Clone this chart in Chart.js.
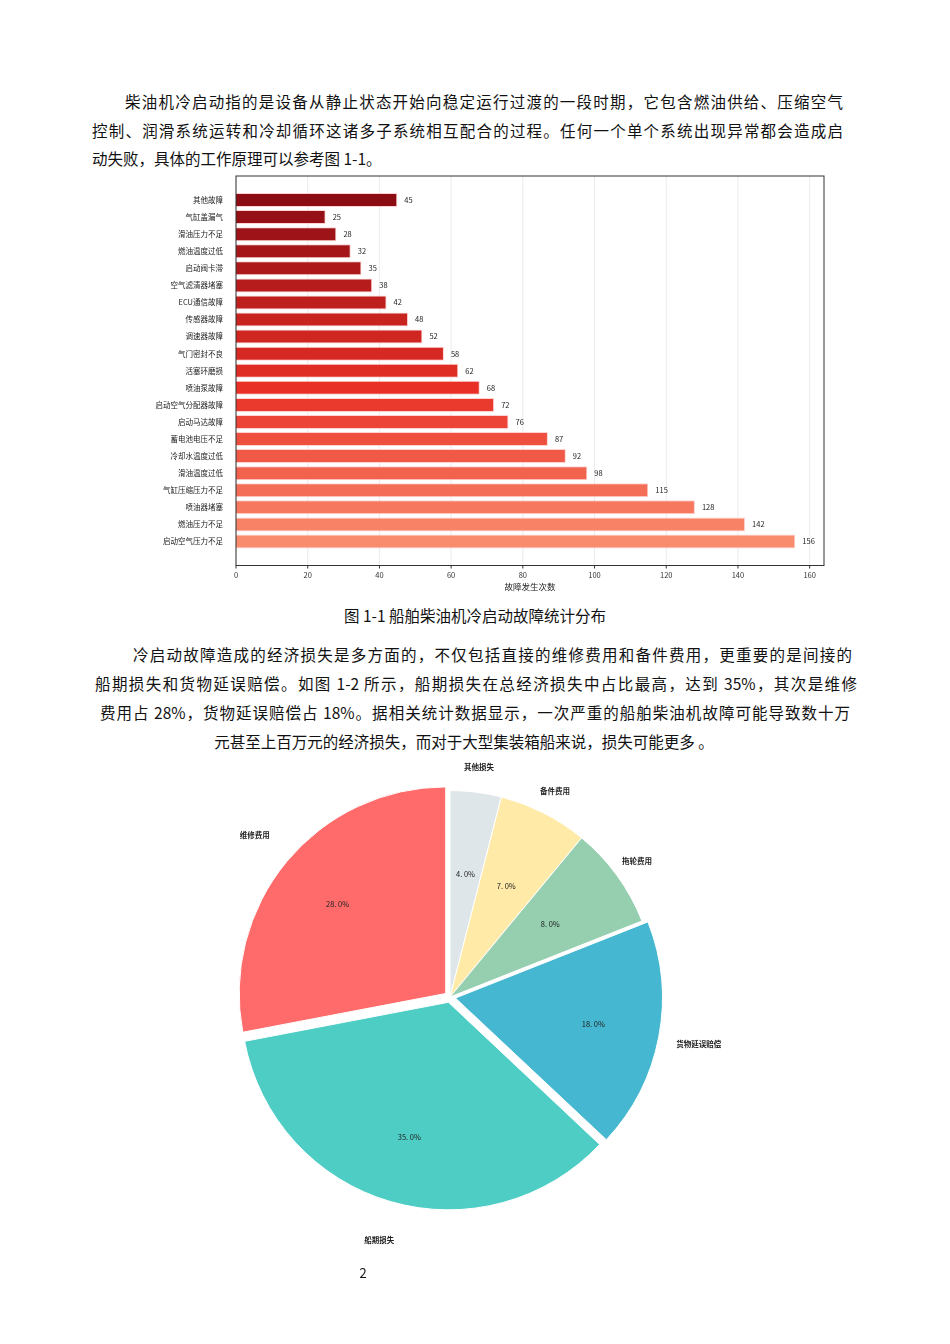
<!DOCTYPE html>
<html>
<head>
<meta charset="utf-8">
<title>船舶柴油机冷启动故障</title>
<script src="https://cdn.jsdelivr.net/npm/chart.js"></script>
<style>
  body { margin:0; background:#fff; width:950px; height:1344px; position:relative; font-family:"Noto Sans CJK SC", serif; color:#111; }
  .l { position:absolute; font-size:15.5px; line-height:20px; text-align:justify; text-align-last:justify; white-space:nowrap; }
  .c { position:absolute; left:0; width:950px; text-align:center; font-size:15.5px; line-height:20px; }
  #bar { position:absolute; left:150px; top:170px; }
  #pie { position:absolute; left:100px; top:727px; }
  .pg { position:absolute; top:1263px; left:0; width:726px; text-align:center; font-size:13px; }
</style>
</head>
<body>
<div class="l" style="top:91px;left:125px;width:718px">柴油机冷启动指的是设备从静止状态开始向稳定运行过渡的一段时期，它包含燃油供给、压缩空气</div>
<div class="l" style="top:120px;left:92px;width:751px">控制、润滑系统运转和冷却循环这诸多子系统相互配合的过程。任何一个单个系统出现异常都会造成启</div>
<div class="l" style="top:148px;left:92px;text-align-last:left">动失败，具体的工作原理可以参考图 1-1。</div>
<canvas id="bar" width="680" height="430"></canvas>
<div class="c" style="top:605px">图 1-1 船舶柴油机冷启动故障统计分布</div>
<div class="l" style="top:644px;left:133px;width:719px">冷启动故障造成的经济损失是多方面的，不仅包括直接的维修费用和备件费用，更重要的是间接的</div>
<div class="l" style="top:673px;left:95px;width:762px">船期损失和货物延误赔偿。如图 1-2 所示，船期损失在总经济损失中占比最高，达到 35%，其次是维修</div>
<div class="l" style="top:702px;left:100px;width:750px">费用占 28%，货物延误赔偿占 18%。据相关统计数据显示，一次严重的船舶柴油机故障可能导致数十万</div>
<div class="c" style="top:731px;width:928px">元甚至上百万元的经济损失，而对于大型集装箱船来说，损失可能更多 。</div>
<canvas id="pie" width="700" height="540"></canvas>
<div class="pg">2</div>
<script>
var faultNames = ['其他故障','气缸盖漏气','滑油压力不足','燃油温度过低','启动阀卡滞','空气滤清器堵塞','ECU通信故障','传感器故障','调速器故障','气门密封不良','活塞环磨损','喷油泵故障','启动空气分配器故障','启动马达故障','蓄电池电压不足','冷却水温度过低','滑油温度过低','气缸压缩压力不足','喷油器堵塞','燃油压力不足','启动空气压力不足'];
var faultCounts = [45,25,28,32,35,38,42,48,52,58,62,68,72,76,87,92,98,115,128,142,156];
var xTicks = [0,20,40,60,80,100,120,140,160];

var lossNames = ['其他损失','备件费用','拖轮费用','货物延误赔偿','船期损失','维修费用'];
var lossShares = [4,7,8,18,35,28];
var lossColors = ['#dfe6e9','#ffeaa7','#96cfb0','#45b7d1','#4ecdc4','#ff6b6b'];
var lossOffsets = [0,0,0,22,22,22];

var FONT = '"Noto Sans CJK SC", sans-serif';

// dark red at top to salmon at bottom
function mix(a, b, t) {
  return 'rgb(' + a.map(function(v, i){ return Math.round(v + (b[i]-v)*t); }).join(',') + ')';
}
var barColors = faultCounts.map(function(v, i){
  var t = i / (faultCounts.length - 1);
  return t < 0.55 ? mix([140,12,20],[232,48,38],t/0.55) : mix([232,48,38],[250,140,110],(t-0.55)/0.45);
});

var frameGap = 15.5;
var barDeco = {
  id: 'barDeco',
  beforeDatasetsDraw: function(chart) {
    var c = chart.ctx, a = chart.chartArea, x = chart.scales.x;
    c.save();
    c.strokeStyle = '#e6e6e6'; c.lineWidth = 0.8;
    xTicks.forEach(function(t){
      var px = x.getPixelForValue(t);
      c.beginPath(); c.moveTo(px, a.top - frameGap); c.lineTo(px, a.bottom + frameGap); c.stroke();
    });
    c.restore();
  },
  afterDatasetsDraw: function(chart) {
    var c = chart.ctx, a = chart.chartArea, x = chart.scales.x;
    c.save();
    c.strokeStyle = '#333'; c.lineWidth = 1;
    c.strokeRect(a.left, a.top - frameGap, a.right - a.left, a.bottom - a.top + 2*frameGap);
    xTicks.forEach(function(t){
      var px = x.getPixelForValue(t);
      c.beginPath(); c.moveTo(px, a.bottom + frameGap); c.lineTo(px, a.bottom + frameGap + 3); c.stroke();
    });
    c.fillStyle = '#222'; c.font = '7.5px ' + FONT; c.textBaseline = 'middle';
    chart.getDatasetMeta(0).data.forEach(function(el, i){
      c.fillText(faultCounts[i], el.x + 7, el.y);
    });
    c.restore();
  }
};

new Chart(document.getElementById('bar'), {
  type: 'bar',
  data: { labels: faultNames, datasets: [{ data: faultCounts, backgroundColor: barColors, borderColor: 'rgba(255,200,200,0.8)', borderWidth: 1, categoryPercentage: 1, barPercentage: 0.82 }] },
  options: {
    indexAxis: 'y', responsive: false, animation: false,
    layout: { padding: { top: 21.5, right: 6, bottom: 8, left: 0 } },
    plugins: { legend: { display: false }, tooltip: { enabled: false } },
    scales: {
      x: { min: 0, max: 164, grid: { display: false }, border: { display: false },
           afterBuildTicks: function(s){ s.ticks = xTicks.map(function(v){ return { value: v }; }); },
           afterFit: function(s){ s.height = 42; },
           ticks: { color: '#333', font: { size: 7.5, family: FONT }, padding: 13 },
           title: { display: true, text: '故障发生次数', color: '#222', font: { size: 8.5, family: FONT }, padding: 0 } },
      y: { grid: { display: false }, border: { display: false },
           afterFit: function(s){ s.width = 86; },
           ticks: { color: '#222', font: { size: 7.5, family: FONT }, padding: 5 } }
    }
  },
  plugins: [barDeco]
});

var pieLabels = {
  id: 'pieLabels',
  afterDatasetsDraw: function(chart) {
    var c = chart.ctx;
    c.save(); c.fillStyle = '#222'; c.textAlign = 'center'; c.textBaseline = 'middle';
    chart.getDatasetMeta(0).data.forEach(function(el, i){
      var mid = (el.startAngle + el.endAngle) / 2;
      var off = lossOffsets[i];
      var cx = el.x + Math.cos(mid) * off, cy = el.y + Math.sin(mid) * off;
      var r = el.outerRadius;
      c.font = '7.5px ' + FONT;
      c.fillText(lossShares[i].toFixed(1).replace('.', '. ') + '%', cx + Math.cos(mid)*r*0.6, cy + Math.sin(mid)*r*0.6);
      c.font = 'bold 7.5px ' + FONT;
      c.fillText(lossNames[i], cx + Math.cos(mid)*r*1.12, cy + Math.sin(mid)*r*1.12);
    });
    c.restore();
  }
};

new Chart(document.getElementById('pie'), {
  type: 'pie',
  data: { labels: lossNames, datasets: [{ data: lossShares, backgroundColor: lossColors, borderColor: '#fff', borderWidth: 1, offset: lossOffsets }] },
  options: {
    responsive: false, animation: false,
    layout: { padding: 52 },
    plugins: { legend: { display: false }, tooltip: { enabled: false } }
  },
  plugins: [pieLabels]
});
</script>
</body>
</html>
